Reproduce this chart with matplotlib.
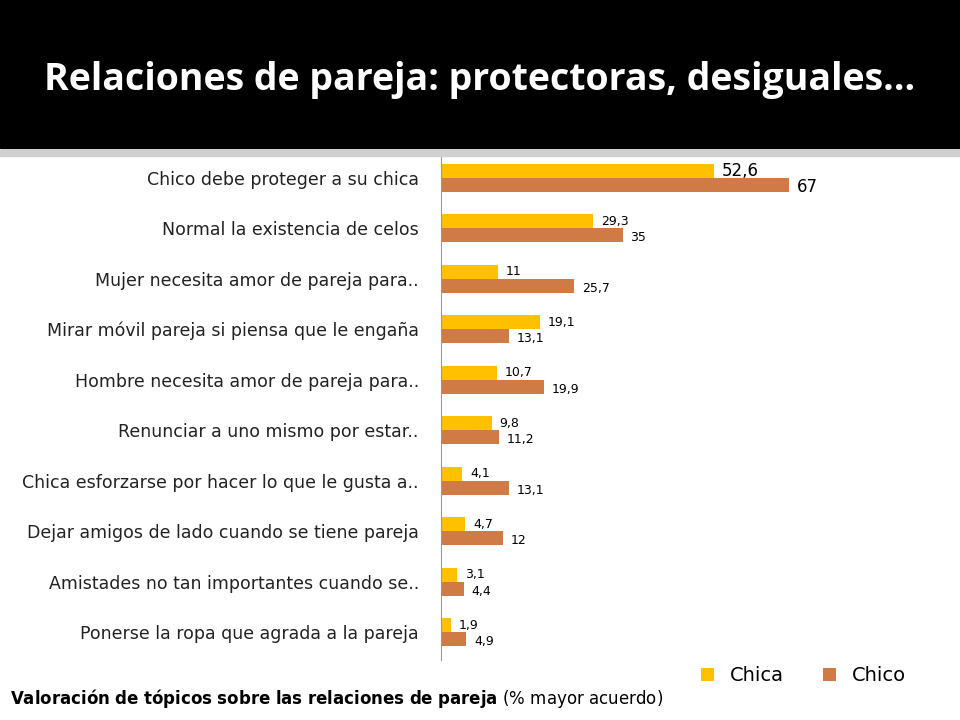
import matplotlib.pyplot as plt
import numpy as np

categorias = ['Chico debe proteger a su chica', 'Normal la existencia de celos',
              'Mujer necesita amor de pareja para..', 'Mirar móvil pareja si piensa que le engaña',
              'Hombre necesita amor de pareja para..', 'Renunciar a uno mismo por estar..',
              'Chica esforzarse por hacer lo que le gusta a..', 'Dejar amigos de lado cuando se tiene pareja',
              'Amistades no tan importantes cuando se..', 'Ponerse la ropa que agrada a la pareja']
chica = [52.6, 29.3, 11, 19.1, 10.7, 9.8, 4.1, 4.7, 3.1, 1.9]
chico = [67, 35, 25.7, 13.1, 19.9, 11.2, 13.1, 12, 4.4, 4.9]

fig = plt.figure(figsize=(9.6, 7.2), dpi=100)
# cabecera negra
fig.patches.append(plt.Rectangle((0, 1 - 148/720), 1, 148/720, transform=fig.transFigure, color='black'))
fig.patches.append(plt.Rectangle((0, 1 - 156/720), 1, 6/720, transform=fig.transFigure, color='#d0d0d0'))
fig.text(0.5, 1 - 80/720, 'Relaciones de pareja: protectoras, desiguales…', color='white',
         ha='center', va='center', fontsize=27, fontweight='bold', family='Open Sans')

ax = fig.add_axes([441/960, 60/720, 519/960, 505/720])
y = np.arange(len(categorias))
h = 0.28
ax.barh(y - h/2, chica, height=h, color='#FFC000', label='Chica')
ax.barh(y + h/2, chico, height=h, color='#D07A45', label='Chico')
for i, (a, b) in enumerate(zip(chica, chico)):
    fs = 12 if i == 0 else 9
    ax.text(a + 1.5, i - h/2, f'{a:g}'.replace('.', ','), va='center', fontsize=fs)
    ax.text(b + 1.5, i + h/2 + 0.05, f'{b:g}'.replace('.', ','), va='center', fontsize=fs)
ax.set_xlim(0, 100)
ax.set_ylim(len(categorias) - 0.45, -0.45)
ax.set_yticks(y)
ax.set_yticklabels(categorias, fontsize=12.5, color='#222222')
ax.tick_params(axis='y', length=0, pad=16)
ax.set_xticks([])
for s in ['top', 'right', 'bottom']:
    ax.spines[s].set_visible(False)
ax.spines['left'].set_color('#999999')
ax.legend(loc='lower right', bbox_to_anchor=(0.93, -0.085), ncol=2, frameon=False,
          fontsize=14, handlelength=0.7, handleheight=0.7, columnspacing=2)
fig.text(0.01, 0.022, r'$\bf{Valoración\ de\ tópicos\ sobre\ las\ relaciones\ de\ pareja}$ (% mayor acuerdo)',
         fontsize=12)
fig.savefig('out.png', dpi=100)
